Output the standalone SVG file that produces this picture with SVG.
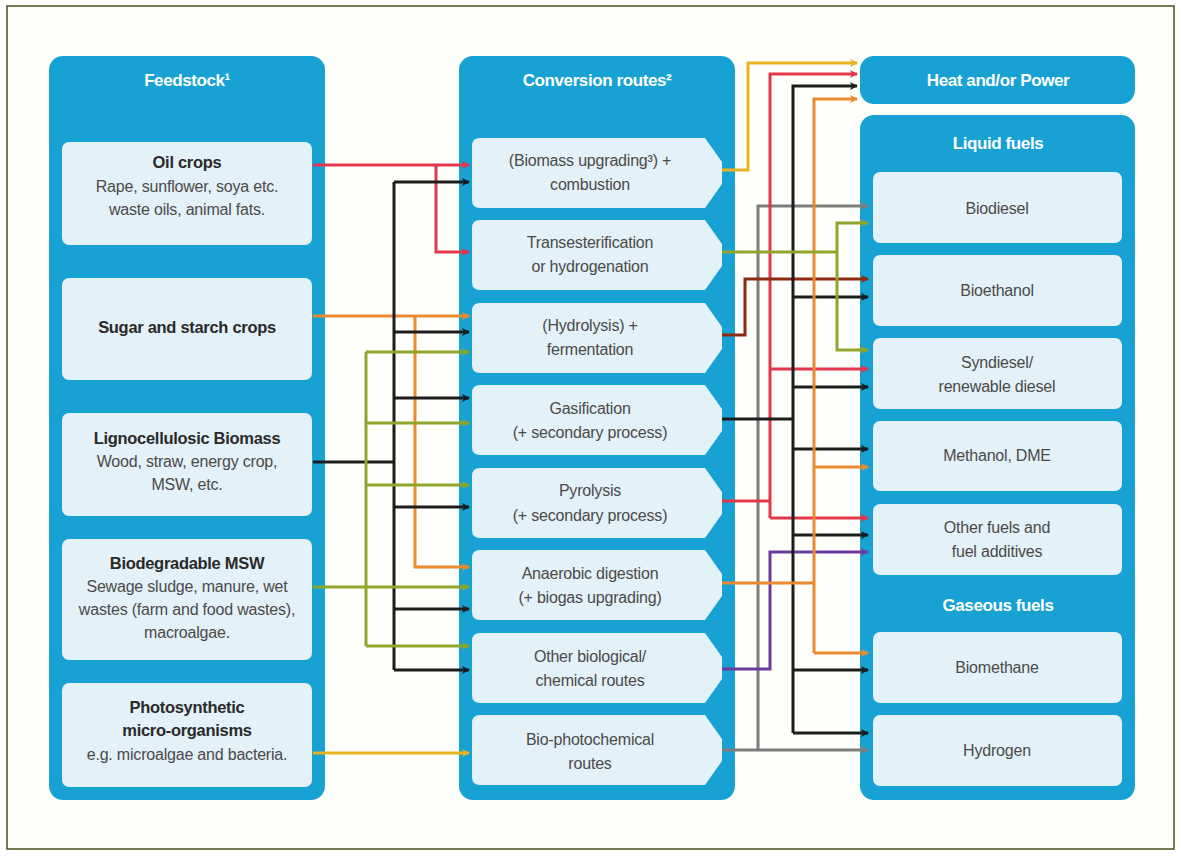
<svg xmlns="http://www.w3.org/2000/svg" width="1181" height="856" viewBox="0 0 1181 856">
<defs>
<style>
.panel{fill:#17a2d3}
.box{fill:#e3f1f8}
.hd{font-family:"Liberation Sans",Arial,sans-serif;font-weight:bold;font-size:17px;fill:#ffffff;text-anchor:middle;letter-spacing:-0.4px}
.t{font-family:"Liberation Sans",Arial,sans-serif;font-size:16px;fill:#4a4a4a;text-anchor:middle;letter-spacing:-0.2px}
.b{font-family:"Liberation Sans",Arial,sans-serif;font-weight:bold;font-size:16.5px;fill:#2a2a2a;text-anchor:middle;letter-spacing:-0.3px}
.w{fill:none;stroke-width:3}
.red{stroke:#e2364b}.blk{stroke:#1c1c1c}.org{stroke:#ea8a2f}.yel{stroke:#e9b222}.olv{stroke:#8fa52b}.gry{stroke:#7c7c7c}.brn{stroke:#8c2a12}.pur{stroke:#6b3b9c}
</style>
<marker id="m-red" markerUnits="userSpaceOnUse" markerWidth="9" markerHeight="9" refX="7" refY="4.5" orient="auto"><path d="M0,0.5 L8,4.5 L0,8.5 L2,4.5 Z" fill="#e2364b"/></marker>
<marker id="m-blk" markerUnits="userSpaceOnUse" markerWidth="9" markerHeight="9" refX="7" refY="4.5" orient="auto"><path d="M0,0.5 L8,4.5 L0,8.5 L2,4.5 Z" fill="#1c1c1c"/></marker>
<marker id="m-org" markerUnits="userSpaceOnUse" markerWidth="9" markerHeight="9" refX="7" refY="4.5" orient="auto"><path d="M0,0.5 L8,4.5 L0,8.5 L2,4.5 Z" fill="#ea8a2f"/></marker>
<marker id="m-yel" markerUnits="userSpaceOnUse" markerWidth="9" markerHeight="9" refX="7" refY="4.5" orient="auto"><path d="M0,0.5 L8,4.5 L0,8.5 L2,4.5 Z" fill="#e9b222"/></marker>
<marker id="m-olv" markerUnits="userSpaceOnUse" markerWidth="9" markerHeight="9" refX="7" refY="4.5" orient="auto"><path d="M0,0.5 L8,4.5 L0,8.5 L2,4.5 Z" fill="#8fa52b"/></marker>
<marker id="m-gry" markerUnits="userSpaceOnUse" markerWidth="9" markerHeight="9" refX="7" refY="4.5" orient="auto"><path d="M0,0.5 L8,4.5 L0,8.5 L2,4.5 Z" fill="#7c7c7c"/></marker>
<marker id="m-brn" markerUnits="userSpaceOnUse" markerWidth="9" markerHeight="9" refX="7" refY="4.5" orient="auto"><path d="M0,0.5 L8,4.5 L0,8.5 L2,4.5 Z" fill="#8c2a12"/></marker>
<marker id="m-pur" markerUnits="userSpaceOnUse" markerWidth="9" markerHeight="9" refX="7" refY="4.5" orient="auto"><path d="M0,0.5 L8,4.5 L0,8.5 L2,4.5 Z" fill="#6b3b9c"/></marker>
</defs>
<rect x="0" y="0" width="1181" height="856" fill="#ffffff"/>
<rect x="7" y="6" width="1167" height="843" fill="#fefefa" stroke="#4d4d1f" stroke-width="1.5"/>

<!-- Panels -->
<g id="feedstock-panel">
<rect class="panel" x="49" y="56" width="276" height="744" rx="14"/>
<text class="hd" x="187" y="86">Feedstock¹</text>
</g>
<g id="conversion-panel">
<rect class="panel" x="459" y="56" width="276" height="744" rx="14"/>
<text class="hd" x="597" y="86">Conversion routes²</text>
</g>
<g id="heat-power">
<rect class="panel" x="860" y="56" width="275" height="48" rx="14"/>
<text class="hd" x="998" y="86">Heat and/or Power</text>
</g>
<g id="fuels-panel">
<rect class="panel" x="860" y="115" width="275" height="685" rx="14"/>
<text class="hd" x="998" y="149">Liquid fuels</text>
<text class="hd" x="998" y="611">Gaseous fuels</text>
</g>

<!-- Feedstock nodes -->
<g id="oil-crops">
<rect class="box" x="62" y="142" width="250" height="103" rx="7"/>
<text class="b" x="187" y="168">Oil crops</text>
<text class="t" x="187" y="192">Rape, sunflower, soya etc.</text>
<text class="t" x="187" y="215">waste oils, animal fats.</text>
</g>
<g id="sugar-starch">
<rect class="box" x="62" y="278" width="250" height="102" rx="7"/>
<text class="b" x="187" y="333">Sugar and starch crops</text>
</g>
<g id="lignocellulosic">
<rect class="box" x="62" y="413" width="250" height="103" rx="7"/>
<text class="b" x="187" y="444">Lignocellulosic Biomass</text>
<text class="t" x="187" y="467">Wood, straw, energy crop,</text>
<text class="t" x="187" y="490">MSW, etc.</text>
</g>
<g id="biodegradable-msw">
<rect class="box" x="62" y="539" width="250" height="121" rx="7"/>
<text class="b" x="187" y="569">Biodegradable MSW</text>
<text class="t" x="187" y="592">Sewage sludge, manure, wet</text>
<text class="t" x="187" y="615">wastes (farm and food wastes),</text>
<text class="t" x="187" y="638">macroalgae.</text>
</g>
<g id="photosynthetic">
<rect class="box" x="62" y="683" width="250" height="104" rx="7"/>
<text class="b" x="187" y="713">Photosynthetic</text>
<text class="b" x="187" y="736">micro-organisms</text>
<text class="t" x="187" y="760">e.g. microalgae and bacteria.</text>
</g>

<!-- Conversion route nodes -->
<g id="combustion">
<path class="box" d="M480,138 H705 L722,162 V184 L705,208 H480 Q472,208 472,200 V146 Q472,138 480,138 Z"/>
<text class="t" x="590" y="166">(Biomass upgrading³) +</text>
<text class="t" x="590" y="190">combustion</text>
</g>
<g id="transesterification">
<path class="box" d="M480,220 H705 L722,244 V266 L705,290 H480 Q472,290 472,282 V228 Q472,220 480,220 Z"/>
<text class="t" x="590" y="248">Transesterification</text>
<text class="t" x="590" y="272">or hydrogenation</text>
</g>
<g id="fermentation">
<path class="box" d="M480,303 H705 L722,327 V349 L705,373 H480 Q472,373 472,365 V311 Q472,303 480,303 Z"/>
<text class="t" x="590" y="331">(Hydrolysis) +</text>
<text class="t" x="590" y="355">fermentation</text>
</g>
<g id="gasification">
<path class="box" d="M480,385 H705 L722,409 V431 L705,455 H480 Q472,455 472,447 V393 Q472,385 480,385 Z"/>
<text class="t" x="590" y="414">Gasification</text>
<text class="t" x="590" y="438">(+ secondary process)</text>
</g>
<g id="pyrolysis">
<path class="box" d="M480,468 H705 L722,492 V514 L705,538 H480 Q472,538 472,530 V476 Q472,468 480,468 Z"/>
<text class="t" x="590" y="496">Pyrolysis</text>
<text class="t" x="590" y="521">(+ secondary process)</text>
</g>
<g id="anaerobic-digestion">
<path class="box" d="M480,550 H705 L722,574 V596 L705,620 H480 Q472,620 472,612 V558 Q472,550 480,550 Z"/>
<text class="t" x="590" y="579">Anaerobic digestion</text>
<text class="t" x="590" y="603">(+ biogas upgrading)</text>
</g>
<g id="other-routes">
<path class="box" d="M480,633 H705 L722,657 V679 L705,703 H480 Q472,703 472,695 V641 Q472,633 480,633 Z"/>
<text class="t" x="590" y="662">Other biological/</text>
<text class="t" x="590" y="686">chemical routes</text>
</g>
<g id="bio-photochemical">
<path class="box" d="M480,715 H705 L722,739 V761 L705,785 H480 Q472,785 472,777 V723 Q472,715 480,715 Z"/>
<text class="t" x="590" y="745">Bio-photochemical</text>
<text class="t" x="590" y="769">routes</text>
</g>

<!-- Product nodes -->
<g id="biodiesel"><rect class="box" x="873" y="172" width="249" height="71" rx="7"/><text class="t" x="997" y="214">Biodiesel</text></g>
<g id="bioethanol"><rect class="box" x="873" y="255" width="249" height="71" rx="7"/><text class="t" x="997" y="296">Bioethanol</text></g>
<g id="syndiesel"><rect class="box" x="873" y="338" width="249" height="71" rx="7"/><text class="t" x="997" y="368">Syndiesel/</text><text class="t" x="997" y="392">renewable diesel</text></g>
<g id="methanol"><rect class="box" x="873" y="421" width="249" height="70" rx="7"/><text class="t" x="997" y="461">Methanol, DME</text></g>
<g id="other-fuels"><rect class="box" x="873" y="504" width="249" height="71" rx="7"/><text class="t" x="997" y="533">Other fuels and</text><text class="t" x="997" y="557">fuel additives</text></g>
<g id="biomethane"><rect class="box" x="873" y="632" width="249" height="71" rx="7"/><text class="t" x="997" y="673">Biomethane</text></g>
<g id="hydrogen"><rect class="box" x="873" y="715" width="249" height="71" rx="7"/><text class="t" x="997" y="756">Hydrogen</text></g>

<!-- Connectors -->
<g id="connectors">
<!-- left side -->
<path class="w red" d="M313,165 H469" marker-end="url(#m-red)"/>
<path class="w red" d="M436,165 V252 H469" marker-end="url(#m-red)"/>
<path class="w org" d="M313,316 H469" marker-end="url(#m-org)"/>
<path class="w org" d="M415,316 V567 H469" marker-end="url(#m-org)"/>
<path class="w blk" d="M313,462 H394"/>
<path class="w blk" d="M394,182 V670"/>
<path class="w blk" d="M394,182 H469" marker-end="url(#m-blk)"/>
<path class="w blk" d="M394,332 H469" marker-end="url(#m-blk)"/>
<path class="w blk" d="M394,398 H469" marker-end="url(#m-blk)"/>
<path class="w blk" d="M394,507 H469" marker-end="url(#m-blk)"/>
<path class="w blk" d="M394,609 H469" marker-end="url(#m-blk)"/>
<path class="w blk" d="M394,670 H469" marker-end="url(#m-blk)"/>
<path class="w olv" d="M313,587 H469" marker-end="url(#m-olv)"/>
<path class="w olv" d="M366,352 V646"/>
<path class="w olv" d="M366,352 H469" marker-end="url(#m-olv)"/>
<path class="w olv" d="M366,423 H469" marker-end="url(#m-olv)"/>
<path class="w olv" d="M366,485 H469" marker-end="url(#m-olv)"/>
<path class="w olv" d="M366,646 H469" marker-end="url(#m-olv)"/>
<path class="w yel" d="M313,753 H469" marker-end="url(#m-yel)"/>
<!-- right side -->
<path class="w yel" d="M722,170 H748 V63 H857" marker-end="url(#m-yel)"/>
<path class="w gry" d="M722,750 H868" marker-end="url(#m-gry)"/>
<path class="w gry" d="M758,750 V206 H868" marker-end="url(#m-gry)"/>
<path class="w red" d="M722,501 H770"/>
<path class="w red" d="M770,518 V74 H857" marker-end="url(#m-red)"/>
<path class="w red" d="M770,369 H868" marker-end="url(#m-red)"/>
<path class="w red" d="M770,518 H868" marker-end="url(#m-red)"/>
<path class="w pur" d="M722,669 H770 V552 H868" marker-end="url(#m-pur)"/>
<path class="w brn" d="M722,335 H745 V279 H868" marker-end="url(#m-brn)"/>
<path class="w blk" d="M722,419 H793"/>
<path class="w blk" d="M793,733 V86 H857" marker-end="url(#m-blk)"/>
<path class="w blk" d="M793,297 H868" marker-end="url(#m-blk)"/>
<path class="w blk" d="M793,387 H868" marker-end="url(#m-blk)"/>
<path class="w blk" d="M793,449 H868" marker-end="url(#m-blk)"/>
<path class="w blk" d="M793,535 H868" marker-end="url(#m-blk)"/>
<path class="w blk" d="M793,670 H868" marker-end="url(#m-blk)"/>
<path class="w blk" d="M793,733 H868" marker-end="url(#m-blk)"/>
<path class="w org" d="M722,583 H814"/>
<path class="w org" d="M814,653 V99 H857" marker-end="url(#m-org)"/>
<path class="w org" d="M814,467 H868" marker-end="url(#m-org)"/>
<path class="w org" d="M814,653 H868" marker-end="url(#m-org)"/>
<path class="w olv" d="M722,252 H837"/>
<path class="w olv" d="M837,252 V223 H868" marker-end="url(#m-olv)"/>
<path class="w olv" d="M837,252 V350 H868" marker-end="url(#m-olv)"/>
</g>
</svg>
